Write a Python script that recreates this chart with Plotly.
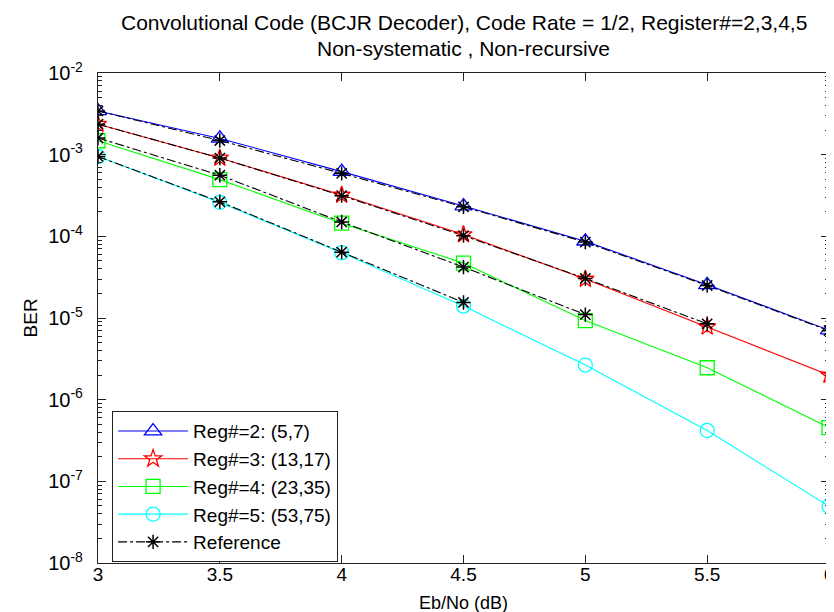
import plotly.graph_objects as go

ebno = [3.0, 3.5, 4.0, 4.5, 5.0, 5.5, 6.0]

ber_reg2 = [3.43e-3, 1.58e-3, 6.2e-4, 2.35e-4, 8.7e-5, 2.55e-5, 7.1e-6]
ber_reg3 = [2.36e-3, 9.1e-4, 3.2e-4, 1.05e-4, 3.0e-5, 7.8e-6, 2.0e-6]
ber_reg4 = [1.48e-3, 4.95e-4, 1.45e-4, 4.7e-5, 9.3e-6, 2.46e-6, 4.55e-7]
ber_reg5 = [9.5e-4, 2.6e-4, 6.3e-5, 1.4e-5, 2.65e-6, 4.2e-7, 4.95e-8]

ref_reg2 = [3.43e-3, 1.49e-3, 5.9e-4, 2.3e-4, 8.5e-5, 2.5e-5, 7.0e-6]
ref_reg3 = [2.36e-3, 9.1e-4, 3.15e-4, 1.02e-4, 3.05e-5, 8.5e-6]
ref_reg4 = [1.6e-3, 5.6e-4, 1.5e-4, 4.2e-5, 1.1e-5]
ref_reg5 = [9.5e-4, 2.65e-4, 6.4e-5, 1.55e-5]

names = ["Reg#=2: (5,7)", "Reg#=3: (13,17)", "Reg#=4: (23,35)", "Reg#=5: (53,75)"]
colors = ["#0000FF", "#FF0000", "#00FF00", "#00FFFF"]
symbols = ["triangle-up-open", "star-open", "square-open", "circle-open"]
sizes = [15, 13, 14, 14]

x_ticks = [3, 3.5, 4, 4.5, 5, 5.5, 6]
x_ticktext = ["3", "3.5", "4", "4.5", "5", "5.5", "6"]
y_exps = [-8, -7, -6, -5, -4, -3, -2]

title_line1 = "Convolutional Code (BCJR Decoder), Code Rate = 1/2, Register#=2,3,4,5"
title_line2 = "Non-systematic , Non-recursive"
x_title = "Eb/No (dB)"
y_title = "BER"

FONT = "Liberation Sans, Arial, sans-serif"
L, R, T, B = 90, 8, 65, 57
W, H = 834, 612
PH = H - T - B


def py(pix):
    return (H - B - pix) / PH


fig = go.Figure()

for ys, nm, c, s, sz in zip([ber_reg2, ber_reg3, ber_reg4, ber_reg5], names, colors, symbols, sizes):
    fig.add_trace(go.Scatter(
        x=ebno, y=ys, name=nm, mode="lines+markers",
        line=dict(color=c, width=1.1),
        marker=dict(symbol=s, size=sz, color=c, line=dict(color=c, width=1.3)),
    ))

for i, ys in enumerate([ref_reg2, ref_reg3, ref_reg4, ref_reg5]):
    fig.add_trace(go.Scatter(
        x=ebno[:len(ys)], y=ys, name="Reference", mode="lines+markers",
        legendgroup="ref", showlegend=(i == 0),
        line=dict(color="black", width=1.1, dash="dashdot"),
        marker=dict(symbol="asterisk-open", size=12, color="black", line=dict(color="black", width=1.5)),
    ))

minor_vals = [m * 10.0 ** e for e in y_exps[:-1] for m in range(2, 10)]

fig.update_layout(
    width=W, height=H,
    margin=dict(l=L, r=R, t=T, b=B),
    paper_bgcolor="white", plot_bgcolor="white",
    font=dict(family=FONT, size=20, color="black"),
    showlegend=True,
    legend=dict(x=0.019, y=py(403), xanchor="left", yanchor="top",
                bgcolor="white", bordercolor="#222222", borderwidth=1.2,
                font=dict(size=19), itemwidth=70, tracegroupgap=0),
    xaxis=dict(
        range=[3, 6], tickvals=x_ticks, ticktext=x_ticktext,
        ticks="inside", ticklen=8, tickcolor="#222222", mirror="allticks",
        showline=True, linecolor="#222222", linewidth=1.2, showgrid=False, zeroline=False,
        ticklabeloverflow="allow", ticklabelstandoff=-6,
        tickfont=dict(size=19),
    ),
    yaxis=dict(
        type="log", range=[-8, -2],
        tickvals=[10.0 ** e for e in y_exps],
        ticktext=["10<sup>%d</sup>" % e for e in y_exps],
        ticks="inside", ticklen=8, tickcolor="#222222", mirror="allticks",
        showline=True, linecolor="#222222", linewidth=1.2, showgrid=False, zeroline=False,
        minor=dict(tickvals=minor_vals, ticks="inside", ticklen=4, tickcolor="#222222", showgrid=False),
        ticklabelstandoff=10, ticklabeloverflow="allow",
        tickfont=dict(size=20),
    ),
    annotations=[
        dict(text=title_line1, x=0.5, y=py(14), xref="paper", yref="paper",
             xanchor="center", yanchor="middle", showarrow=False, font=dict(size=21)),
        dict(text=title_line2, x=0.5, y=py(40), xref="paper", yref="paper",
             xanchor="center", yanchor="middle", showarrow=False, font=dict(size=21)),
        dict(text=x_title, x=0.5, y=py(595), xref="paper", yref="paper",
             xanchor="center", yanchor="middle", showarrow=False, font=dict(size=18)),
        dict(text=y_title, x=-(L - 22) / (W - L - R), y=py(310), xref="paper", yref="paper",
             xanchor="center", yanchor="middle", showarrow=False, textangle=-90, font=dict(size=19)),
    ],
)

fig.write_html("out.html")
